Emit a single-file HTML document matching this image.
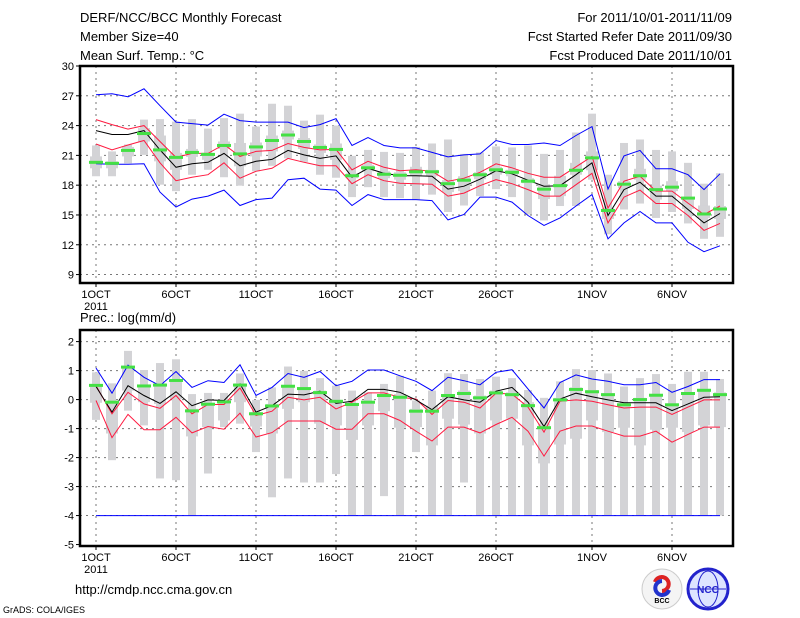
<!DOCTYPE html>
<html><head><meta charset="utf-8"><style>
body{margin:0;background:#fff;}
svg{display:block;font-family:"Liberation Sans",sans-serif;}
</style></head><body>
<svg id="chart" width="800" height="618" viewBox="0 0 800 618" xmlns="http://www.w3.org/2000/svg">
<rect width="800" height="618" fill="#fff"/>
<g font-size="13" fill="#000">
<text x="80" y="22">DERF/NCC/BCC Monthly Forecast</text>
<text x="80" y="41">Member Size=40</text>
<text x="80" y="60">Mean Surf. Temp.: °C</text>
<text x="732" y="22" text-anchor="end">For 2011/10/01-2011/11/09</text>
<text x="732" y="41" text-anchor="end">Fcst Started Refer Date 2011/09/30</text>
<text x="732" y="60" text-anchor="end">Fcst Produced Date 2011/10/01</text>
<text x="80" y="322">Prec.: log(mm/d)</text>
<text x="75" y="594">http://cmdp.ncc.cma.gov.cn</text>
<text x="3" y="613" font-size="9">GrADS: COLA/IGES</text>
</g>
<g>
<circle cx="662" cy="589" r="20" fill="#f4f4f4" stroke="#ccc"/>
<path d="M655 582a7 7 0 1 1 7 9" fill="none" stroke="#d22" stroke-width="4"/>
<path d="M669 590a7 7 0 1 1 -7 -9" fill="none" stroke="#23c" stroke-width="4"/>
<text x="662" y="603" font-size="7" text-anchor="middle" font-weight="bold">BCC</text>
</g>
<g>
<circle cx="708" cy="589" r="20" fill="#dde4ff" stroke="#22c" stroke-width="3"/>
<ellipse cx="708" cy="589" rx="10" ry="18" fill="none" stroke="#22c"/>
<line x1="690" y1="589" x2="726" y2="589" stroke="#22c"/>
<text x="708" y="593" font-size="10" text-anchor="middle" font-weight="bold" fill="#22c">NCC</text>
</g>
<g id="plots"></g>
</svg>
<script>
// ---- data ----
const days = ["1OCT","6OCT","11OCT","16OCT","21OCT","26OCT","1NOV","6NOV"];
const dayIdx = [0,5,10,15,20,25,31,36];
const tTicks = [30,27,24,21,18,15,12,9];
const pTicks = [2,1,0,-1,-2,-3,-4,-5];
// temperature series
const tMax = [27.1,27.2,26.9,27.7,26.0,24.35,24.2,24.05,25.15,24.5,24.35,24.35,24.35,23.8,24.1,24.7,22.0,22.8,22.0,21.75,
 21.75,21.3,20.85,21.05,21.15,22.5,22.1,22.1,22.25,22.0,23.0,23.9,17.6,20.95,21.5,19.65,19.65,19.05,17.55,19.15];
const tUp = [24.6,24.1,23.65,24.0,22.4,20.8,21.2,21.2,22.1,20.9,21.4,21.5,22.2,21.8,21.55,21.6,19.55,20.4,19.8,19.45,
 19.55,19.4,18.4,18.7,19.3,20.15,19.75,19.2,18.8,18.8,19.85,20.9,15.7,18.4,18.9,17.4,17.4,16.2,15.05,15.9];
const tMean = [23.5,23.1,23.1,23.5,21.55,19.8,20.15,20.3,21.2,19.95,20.4,20.6,21.5,21.05,20.7,20.95,18.8,19.7,19.2,18.95,
 18.95,18.9,17.6,17.9,18.6,19.45,19.15,18.5,17.9,17.95,19.05,20.25,14.95,17.55,18.3,16.9,16.9,15.55,14.2,15.15];
const tLow = [22.15,21.55,22.05,22.5,20.25,18.45,18.8,19.05,20.25,18.7,19.4,19.7,20.7,20.3,19.95,19.95,18.15,19.05,18.45,18.2,
 18.15,18.1,16.9,17.2,17.95,18.55,18.15,17.55,16.9,16.9,18.05,19.2,14.2,16.8,17.5,16.15,16.15,14.95,13.45,14.15];
const tMin = [20.15,20.1,20.1,20.15,17.3,15.8,16.6,16.9,17.5,15.95,16.55,16.7,18.55,18.7,17.6,17.5,15.95,17.05,16.55,16.55,
 16.55,16.45,14.5,15.05,16.8,16.8,16.3,14.95,13.95,14.7,15.9,17.05,12.6,14.2,15.35,14.2,14.2,12.25,11.3,11.9];
const tRangeHi = [22.0,21.4,22.1,24.6,24.65,24.4,24.65,23.7,24.75,25.2,23.9,26.2,26.0,24.5,25.1,24.0,20.95,21.55,21.35,21.25,
 21.85,22.2,22.6,21.15,21.3,21.9,21.8,22.0,21.15,21.55,23.3,25.2,19.05,22.25,22.6,21.55,21.4,20.25,18.15,19.2];
const tRangeLo = [18.9,18.9,20.2,21.05,18.05,17.4,19.05,19.55,18.8,17.95,19.4,19.95,20.7,20.35,19.05,18.75,16.8,17.8,16.8,16.7,
 16.5,17.05,15.3,15.95,16.9,17.6,16.8,15.05,14.45,15.9,15.9,18.55,13.05,15.55,16.15,14.7,15.3,14.15,12.6,12.8];
const tBoxHi = [20.9,20.4,21.85,23.75,23.0,21.25,21.65,21.25,22.4,22.25,22.3,23.0,23.5,22.75,22.1,22.2,19.2,20.05,19.4,19.3,
 19.85,19.55,18.5,18.9,19.3,19.85,19.55,18.7,18.05,18.95,20.25,21.4,15.7,18.4,19.65,17.95,18.4,16.8,15.95,15.9];
const tBoxLo = [19.7,19.7,20.9,22.4,20.4,19.55,20.85,20.55,21.65,19.9,20.9,21.4,22.6,21.65,21.25,20.55,18.7,19.4,18.7,18.55,
 18.95,18.9,17.3,17.4,18.6,19.05,18.9,18.2,16.6,16.9,19.05,19.5,14.6,17.7,18.55,16.55,17.4,15.6,14.7,14.6];
const tObs = [20.3,20.2,21.5,23.2,21.55,20.8,21.3,21.1,22.0,21.15,21.85,22.5,23.05,22.4,21.8,21.6,18.95,19.75,19.1,19.0,
 19.35,19.35,18.15,18.5,19.05,19.55,19.3,18.4,17.6,17.95,19.5,20.75,15.45,18.1,18.95,17.55,17.8,16.7,15.1,15.6];
// precipitation series (log mm/d)
const pMax = [1.09,0.22,1.19,0.77,0.48,0.97,0.42,0.65,0.59,1.2,0.14,0.42,0.9,0.77,0.97,0.48,0.63,1.02,1.02,0.82,
 0.63,0.31,0.77,0.65,0.51,0.94,1.03,0.37,-0.29,0.59,0.85,0.71,0.63,0.51,0.51,0.59,0.25,0.45,0.69,0.69];
const pUp = [0.48,-0.49,0.25,-0.15,-0.3,0.14,-0.49,-0.17,-0.17,0.4,-0.55,-0.4,0.08,-0.01,0.08,-0.32,-0.09,0.23,0.23,0.08,
 0.02,-0.51,-0.03,-0.09,-0.29,0.22,0.19,-0.26,-1.12,-0.06,-0.01,-0.06,-0.18,-0.29,-0.26,-0.26,-0.51,-0.26,-0.01,-0.01];
const pMean = [0.45,-0.43,0.48,0.14,-0.13,0.27,-0.21,-0.01,-0.03,0.54,-0.43,-0.21,0.19,0.16,0.29,-0.13,-0.06,0.35,0.35,0.25,
 -0.01,-0.35,0.1,-0.01,-0.09,0.29,0.42,-0.09,-0.93,0.02,0.22,0.1,-0.01,-0.11,-0.11,-0.11,-0.38,-0.15,0.08,0.1];
const pLow = [-0.03,-1.31,-0.51,-1.04,-1.04,-0.61,-1.15,-0.93,-1.02,-0.47,-1.29,-1.14,-0.74,-0.74,-0.74,-1.02,-1.02,-0.49,-0.49,-0.72,
 -1.09,-1.43,-0.95,-0.95,-1.15,-0.86,-0.61,-1.09,-1.95,-1.09,-0.91,-0.91,-1.09,-1.26,-1.26,-1.09,-1.47,-1.2,-0.95,-0.95];
const pMin = [-4,-4,-4,-4,-4,-4,-4,-4,-4,-4,-4,-4,-4,-4,-4,-4,-4,-4,-4,-4,
 -4,-4,-4,-4,-4,-4,-4,-4,-4,-4,-4,-4,-4,-4,-4,-4,-4,-4,-4,-4];
const pRangeHi = [0.94,0.56,1.68,1.02,1.26,1.39,0.19,0.23,0.23,0.9,-0.01,0.42,1.14,0.99,0.74,0.48,0.31,0.25,0.54,0.82,
 -0.03,0.31,0.91,0.88,0.71,0.79,0.74,0.33,0.06,0.63,1.05,1.02,0.9,0.45,0.74,0.88,0.54,0.96,0.96,0.71];
const pRangeLo = [-0.7,-2.09,-0.38,-0.89,-2.72,-2.78,-4,-2.55,-0.95,-0.83,-1.81,-3.37,-2.72,-2.86,-2.86,-2.57,-4,-4,-3.33,-4,
 -1.81,-4,-4,-2.86,-4,-4,-4,-4,-4,-4,-4,-4,-4,-4,-4,-4,-4,-4,-4,-4];
const pBoxHi = [0.54,-0.06,1.17,0.51,0.56,0.71,-0.32,-0.11,-0.01,0.56,-0.43,-0.15,0.5,0.42,0.31,-0.01,-0.11,-0.06,0.19,0.19,
 -0.32,-0.21,0.19,0.31,0.14,0.31,0.25,-0.09,-0.83,0.06,0.42,0.33,0.22,-0.13,0.06,0.19,-0.13,0.25,0.37,0.25];
const pBoxLo = [-0.11,-1.17,0.31,-0.09,-0.15,0.02,-1.27,-0.95,-0.72,-0.09,-0.93,-1.17,-0.32,-0.09,-0.83,-0.89,-1.39,-0.89,-0.4,-0.97,
 -0.95,-1.58,-0.66,-0.86,-1.17,-0.72,-0.66,-1.58,-2.2,-1.55,-1.35,-0.72,-1.12,-0.97,-1.58,-1.04,-0.97,-1.12,-0.89,-0.95];
const pObs = [0.49,-0.09,1.12,0.47,0.5,0.66,-0.39,-0.16,-0.08,0.5,-0.49,-0.22,0.46,0.38,0.24,-0.06,-0.17,-0.09,0.14,0.08,
 -0.4,-0.4,0.14,0.21,0.06,0.23,0.17,-0.21,-0.97,-0.01,0.35,0.27,0.17,-0.18,0.0,0.15,-0.18,0.21,0.32,0.17];

// ---- drawing ----
const NS="http://www.w3.org/2000/svg";
const root=document.getElementById('plots');
function mk(tag,attrs,parent){const e=document.createElementNS(NS,tag);for(const k in attrs)e.setAttribute(k,attrs[k]);(parent||root).appendChild(e);return e;}
const xOf=d=>96+d*16;
function panel(name,top,bottom,vTop,vBot,ticks,ser){
  const yOf=v=>top+(vTop-v)*(bottom-top)/(vTop-vBot);
  const g=mk('g',{});
  
  
  ticks.forEach(t=>{
    const y=yOf(t);
    if(y>top+2&&y<bottom-2){const l=mk('line',{x1:80,x2:733,y1:y,y2:y,stroke:'#777','stroke-dasharray':'2,4'},g);
      
      }
    const tk=mk('line',{x1:76,x2:80,y1:y,y2:y,stroke:'#000'},g);
    
    
    const tx=mk('text',{x:74,y:y+4,'font-size':11,'text-anchor':'end'},g);
    tx.textContent=t;
    
    
  });
  dayIdx.forEach((d,i)=>{
    const x=xOf(d);
    const l=mk('line',{x1:x,x2:x,y1:top,y2:bottom,stroke:'#777','stroke-dasharray':'2,4'},g);
    
    
    const tk=mk('line',{x1:x,x2:x,y1:bottom,y2:bottom+4,stroke:'#000'},g);
    
    
    const tx=mk('text',{x:x,y:bottom+15,'font-size':11,'text-anchor':'middle'},g);
    tx.textContent=days[i];
    
    
  });
  const yr=mk('text',{x:96,y:bottom+27,'font-size':11,'text-anchor':'middle'},g);
  yr.textContent='2011';
  
  
  for(let d=0;d<40;d++){
    const x=xOf(d);
    const r1=mk('rect',{x:x-4,y:yOf(ser.rHi[d]),width:8,height:yOf(ser.rLo[d])-yOf(ser.rHi[d]),fill:'#d3d3d6'},g);
    
    
    const r2=mk('rect',{x:x-6,y:yOf(ser.bHi[d]),width:12,height:yOf(ser.bLo[d])-yOf(ser.bHi[d]),fill:'#d3d3d6'},g);
    
    
  }
  const lines=[[ser.max,'#0000ff','max-line'],[ser.up,'#ff1a40','upper-line'],[ser.mean,'#000','mean-line'],[ser.low,'#ff1a40','lower-line'],[ser.min,'#0000ff','min-line']];
  lines.forEach(([arr,c,n])=>{
    const p=mk('polyline',{points:arr.map((v,d)=>xOf(d)+','+yOf(v).toFixed(1)).join(' '),fill:'none',stroke:c,'stroke-width':1},g);
    
    
  });
  for(let d=0;d<40;d++){
    const o=mk('rect',{x:xOf(d)-7,y:yOf(ser.obs[d])-1.5,width:14,height:3,fill:'#44e044'},g);
    
    
  }
  const f=mk('rect',{x:80,y:top,width:653,height:bottom-top,fill:'none',stroke:'#000','stroke-width':2.5},g);
  
  
}
panel('temperature-panel',66,283,30,8.15,tTicks,{max:tMax,up:tUp,mean:tMean,low:tLow,min:tMin,rHi:tRangeHi,rLo:tRangeLo,bHi:tBoxHi,bLo:tBoxLo,obs:tObs});
panel('precipitation-panel',330,546,2.4,-5.05,pTicks,{max:pMax,up:pUp,mean:pMean,low:pLow,min:pMin,rHi:pRangeHi,rLo:pRangeLo,bHi:pBoxHi,bLo:pBoxLo,obs:pObs});
</script>
</body></html>
